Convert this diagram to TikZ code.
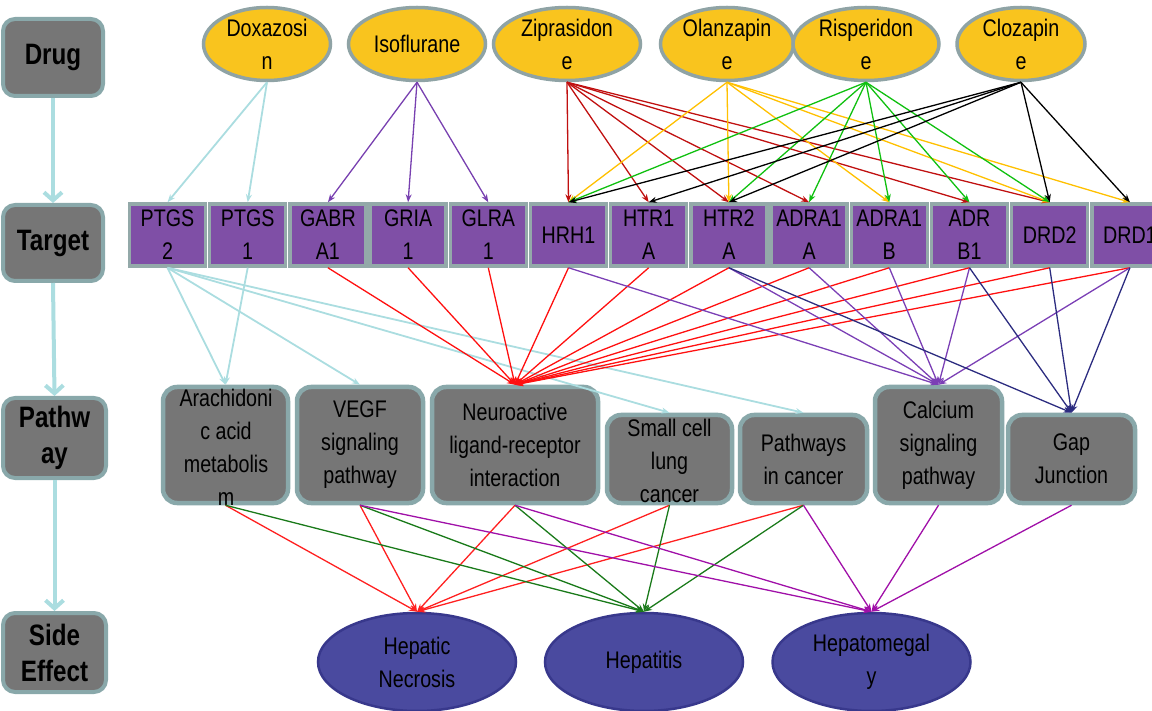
\documentclass[tikz,border=0pt]{standalone}
\usepackage{fontspec}
\setmainfont{Liberation Sans}[FakeStretch=0.82]
\usetikzlibrary{shapes.geometric,arrows.meta}
\definecolor{drugfill}{HTML}{F9C41E}
\definecolor{drugline}{HTML}{8FA3A5}
\definecolor{tgtfill}{HTML}{7F4FA6}
\definecolor{tgtline}{HTML}{93A9A9}
\definecolor{pwfill}{HTML}{767676}
\definecolor{pwline}{HTML}{89A8AA}
\definecolor{sefill}{HTML}{4A4A9F}
\definecolor{seline}{HTML}{38388C}
\definecolor{lblue}{HTML}{ABDDE0}
\definecolor{isoc}{HTML}{7840B0}
\definecolor{zipc}{HTML}{C01010}
\definecolor{olac}{HTML}{FFC000}
\definecolor{risc}{HTML}{10C010}
\definecolor{cloc}{HTML}{000000}
\definecolor{neuc}{HTML}{FF1010}
\definecolor{calc}{HTML}{7B3FB5}
\definecolor{gapc}{HTML}{2C2C80}
\definecolor{necc}{HTML}{FF2020}
\definecolor{hepc}{HTML}{1A7A1A}
\definecolor{megc}{HTML}{A010A8}
\begin{document}
\begin{tikzpicture}[x=1pt,y=-1pt,
  txt/.style={align=center,inner sep=0pt,font=\fontsize{24}{33}\selectfont},
  ltxt/.style={align=center,inner sep=0pt,font=\bfseries\fontsize{29.5}{36}\selectfont},
  drug/.style={ellipse,draw=drugline,fill=drugfill,line width=3.5pt,inner sep=0pt,minimum height=73},
  tgt/.style={rectangle,draw=tgtline,fill=tgtfill,line width=3.5pt,inner sep=0pt,minimum width=76,minimum height=62},
  pw/.style={rectangle,rounded corners=14pt,draw=pwline,fill=pwfill,line width=4.5pt,inner sep=0pt},
  se/.style={ellipse,draw=seline,fill=sefill,line width=2.5pt,inner sep=0pt,minimum width=198,minimum height=98},
  lbox/.style={rectangle,rounded corners=12pt,draw=pwline,fill=pwfill,line width=4pt,inner sep=0pt},
  larr/.style={draw=lblue,line width=4pt,-{Straight Barb[length=8pt,width=18pt]}},
  e/.style={line width=1.3pt,-{Stealth[length=8pt,width=6pt]}},
]
\useasboundingbox (0,0) rectangle (1152,711);

% ---- left column ----
\node[lbox,minimum width=100,minimum height=77] (ldrug) at (53,57.5) {};
\node[ltxt] (ldrug-t) at (ldrug) {Drug};
\node[lbox,minimum width=100,minimum height=76] (ltarg) at (53,243) {};
\node[ltxt] (ltarg-t) at (ltarg) {Target};
\node[lbox,minimum width=103,minimum height=80] (lpath) at (54.5,438) {};
\node[ltxt] (lpath-t) at (lpath) {Pathw\\ay};
\node[lbox,minimum width=103,minimum height=79] (lside) at (54.5,652.5) {};
\node[ltxt] (lside-t) at (lside) {Side\\Effect};
\draw[larr] (ldrug.south) -- (ltarg.north);
\draw[larr] (ltarg.south) -- (lpath.north);
\draw[larr] (lpath.south) -- (lside.north);

% ---- drugs ----
\node[drug,minimum width=127] (doxa) at (267,44) {};
\node[txt] (doxa-t) at (doxa) {Doxazosi\\n};
\node[drug,minimum width=137] (isof) at (417,44) {};
\node[txt] (isof-t) at (isof) {Isoflurane};
\node[drug,minimum width=147] (zipr) at (567,44) {};
\node[txt] (zipr-t) at (zipr) {Ziprasidon\\e};
\node[drug,minimum width=133] (olan) at (727,44) {};
\node[txt] (olan-t) at (olan) {Olanzapin\\e};
\node[drug,minimum width=146] (risp) at (866,44) {};
\node[txt] (risp-t) at (risp) {Risperidon\\e};
\node[drug,minimum width=128] (cloz) at (1021,44) {};
\node[txt] (cloz-t) at (cloz) {Clozapin\\e};

% ---- targets ----
\foreach \n/\t [count=\i from 0] in {ptgs2/{PTGS\\2},ptgs1/{PTGS\\1},gabra1/{GABR\\A1},gria1/{GRIA\\1},glra1/{GLRA\\1},hrh1/{HRH1},htr1a/{HTR1\\A},htr2a/{HTR2\\A},adra1a/{ADRA1\\A},adra1b/{ADRA1\\B},adrb1/{ADR\\B1},drd2/{DRD2},drd1/{DRD1}}{
  \node[tgt] (\n) at ({167.5+80.2*\i},235) {};
  \node[txt] (\n-t) at (\n) {\t};
}

% ---- pathways ----
\node[pw,minimum width=125,minimum height=116] (arch) at (225.5,445) {};
\node[txt] (arch-t) at (226,447) {Arachidoni\\c acid\\metabolis\\m};
\node[pw,minimum width=126,minimum height=116] (vegf) at (360,445) {};
\node[txt] (vegf-t) at (vegf) {VEGF\\signaling\\pathway};
\node[pw,minimum width=166,minimum height=116] (neuro) at (515,445) {};
\node[txt] (neuro-t) at (neuro) {Neuroactive\\ligand-receptor\\interaction};
\node[pw,minimum width=125,minimum height=88] (small) at (669.5,459) {};
\node[txt] (small-t) at (669.5,461) {Small cell\\lung\\cancer};
\node[pw,minimum width=127,minimum height=88] (pinc) at (803.5,459) {};
\node[txt] (pinc-t) at (pinc) {Pathways\\in cancer};
\node[pw,minimum width=127,minimum height=116] (calcium) at (938.5,445) {};
\node[txt] (calcium-t) at (calcium) {Calcium\\signaling\\pathway};
\node[pw,minimum width=127,minimum height=88] (gap) at (1071.5,459) {};
\node[txt] (gap-t) at (gap) {Gap\\Junction};

% ---- side effects ----
\node[se] (necro) at (417,662) {};
\node[txt] (necro-t) at (necro) {Hepatic\\Necrosis};
\node[se] (hepa) at (644,662) {};
\node[txt] (hepa-t) at (hepa) {Hepatitis};
\node[se] (mega) at (871.5,662) {};
\node[txt] (mega-t) at (mega) {Hepatomegal\\y};

% ---- drug -> target ----
\foreach \d in {ptgs2,ptgs1} \draw[e,draw=lblue,line width=1.8pt] (doxa.south) -- (\d.north);
\foreach \d in {gabra1,gria1,glra1} \draw[e,draw=isoc] (isof.south) -- (\d.north);
\foreach \d in {hrh1,htr1a,htr2a,adra1a,adrb1,drd2} \draw[e,draw=zipc] (zipr.south) -- (\d.north);
\foreach \d in {hrh1,htr2a,adra1b,drd2,drd1} \draw[e,draw=olac] (olan.south) -- (\d.north);
\foreach \d in {hrh1,htr2a,adra1a,adra1b,adrb1,drd2} \draw[e,draw=risc] (risp.south) -- (\d.north);
\foreach \d in {hrh1,htr1a,htr2a,drd2,drd1} \draw[e,draw=cloc] (cloz.south) -- (\d.north);

% ---- target -> pathway ----
\foreach \p in {arch,vegf,small,pinc} \draw[e,draw=lblue,line width=1.8pt] (ptgs2.south) -- (\p.north);
\draw[e,draw=lblue,line width=1.8pt] (ptgs1.south) -- (arch.north);
\foreach \s in {gabra1,gria1,glra1,hrh1,htr1a,htr2a,adra1a,adra1b,adrb1,drd2,drd1} \draw[e,draw=neuc] (\s.south) -- (neuro.north);
\foreach \s in {hrh1,htr2a,adra1a,adra1b,adrb1,drd1} \draw[e,draw=calc] (\s.south) -- (calcium.north);
\foreach \s in {htr2a,adrb1,drd2,drd1} \draw[e,draw=gapc] (\s.south) -- (gap.north);

% ---- pathway -> side effect ----
\foreach \s in {arch,vegf,neuro,small,pinc} \draw[e,draw=necc] (\s.south) -- (necro.north);
\foreach \s in {arch,vegf,neuro,small,pinc} \draw[e,draw=hepc] (\s.south) -- (hepa.north);
\foreach \s in {vegf,neuro,pinc,calcium,gap} \draw[e,draw=megc] (\s.south) -- (mega.north);
\end{tikzpicture}
\end{document}
